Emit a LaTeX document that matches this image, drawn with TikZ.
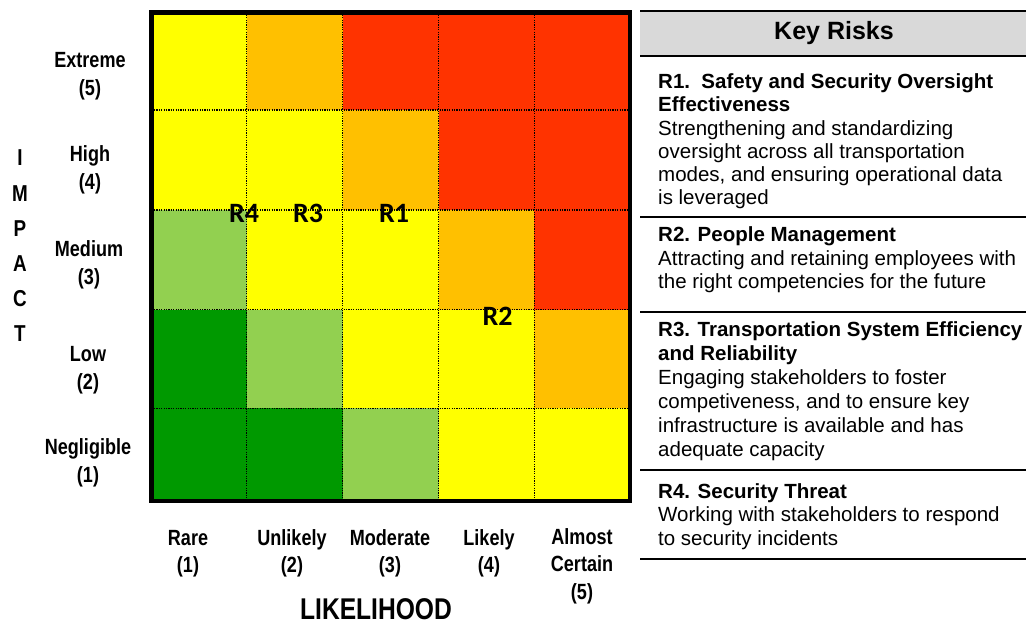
\documentclass[tikz,border=0pt]{standalone}
\usepackage{fontspec}
\setmainfont{Liberation Sans}
\newfontfamily\narrowfont[FakeStretch=0.82]{Liberation Sans}
\newfontfamily\calfont{Carlito}
\definecolor{yel}{HTML}{FFFF00}
\definecolor{org}{HTML}{FFC000}
\definecolor{red}{HTML}{FF3300}
\definecolor{lgr}{HTML}{92D050}
\definecolor{dgr}{HTML}{009900}
\definecolor{headgray}{HTML}{D9D9D9}
\tikzset{
  gridline/.style={black, line width=1.3pt, dash pattern=on 1.3pt off 1.1pt},
  frame/.style={black, line width=4.6pt},
  axislab/.style={inner sep=0, align=center, font=\narrowfont\bfseries\fontsize{22}{27.5}\selectfont},
  axistitle/.style={inner sep=0, align=center, font=\narrowfont\bfseries\fontsize{30}{35}\selectfont},
  risk/.style={inner sep=0, font=\calfont\bfseries\fontsize{28}{30}\selectfont},
  rule/.style={black, line width=2.2pt},
  keyline/.style={anchor=base west, inner sep=0, font=\fontsize{20.5}{24}\selectfont},
  keybold/.style={keyline, font=\bfseries\fontsize{20.5}{24}\selectfont},
}
\begin{document}
\begin{tikzpicture}[x=1pt, y=-1pt]
\useasboundingbox (0,0) rectangle (1026,624);

% heat map cells, one row per impact level (top = Extreme)
\foreach \xa/\xb/\c in {151.5/246.7/yel, 246.7/342.7/org, 342.7/438.7/red, 438.7/534.3/red, 534.3/629.8/red}
  \fill[\c] (\xa,12.3) rectangle (\xb,110);
\foreach \xa/\xb/\c in {151.5/246.7/yel, 246.7/342.7/yel, 342.7/438.7/org, 438.7/534.3/red, 534.3/629.8/red}
  \fill[\c] (\xa,110) rectangle (\xb,210);
\foreach \xa/\xb/\c in {151.5/246.7/lgr, 246.7/342.7/yel, 342.7/438.7/yel, 438.7/534.3/org, 534.3/629.8/red}
  \fill[\c] (\xa,210) rectangle (\xb,309.5);
\foreach \xa/\xb/\c in {151.5/246.7/dgr, 246.7/342.7/lgr, 342.7/438.7/yel, 438.7/534.3/yel, 534.3/629.8/org}
  \fill[\c] (\xa,309.5) rectangle (\xb,408.3);
\foreach \xa/\xb/\c in {151.5/246.7/dgr, 246.7/342.7/dgr, 342.7/438.7/lgr, 438.7/534.3/yel, 534.3/629.8/yel}
  \fill[\c] (\xa,408.3) rectangle (\xb,501);

% dotted cell boundaries
\foreach \x in {246.7, 342.7, 438.7, 534.3}
  \draw[gridline] (\x,12.3) -- (\x,501);
\foreach \y in {110, 210, 309.5, 408.3}
  \draw[gridline] (151.5,\y) -- (629.8,\y);

% outer frame
\draw[frame] (151.5,12.3) rectangle (629.8,501);

% risk markers
\node[risk] (r4) at (244,213) {R4};
\node[risk] (r3) at (308,213) {R3};
\node[risk] (r1) at (394,213) {R1};
\node[risk] (r2) at (497.5,316.5) {R2};

% impact axis
\node[axislab, font=\narrowfont\bfseries\fontsize{23}{35.2}\selectfont] (impact) at (20,246) {I\\M\\P\\A\\C\\T};
\node[axislab] (imp5) at (90,76) {Extreme\\(5)};
\node[axislab] (imp4) at (90,170) {High\\(4)};
\node[axislab] (imp3) at (89,265) {Medium\\(3)};
\node[axislab] (imp2) at (88,370) {Low\\(2)};
\node[axislab] (imp1) at (88,463) {Negligible\\(1)};

% likelihood axis
\node[axislab] (lik1) at (188,553.5) {Rare\\(1)};
\node[axislab] (lik2) at (292,553.5) {Unlikely\\(2)};
\node[axislab] (lik3) at (390,553.5) {Moderate\\(3)};
\node[axislab] (lik4) at (489,553.5) {Likely\\(4)};
\node[axislab] (lik5) at (582,566) {Almost\\Certain\\(5)};
\node[axistitle] (likelihood) at (376,609) {LIKELIHOOD};

% key risks table
\fill[headgray] (640,12) rectangle (1026,55.5);
\draw[rule] (640,11) -- (1026,11);
\draw[rule] (640,56) -- (1026,56);
\node[inner sep=0, font=\bfseries\fontsize{25}{28}\selectfont] (keyhead) at (834,33.5) {Key Risks};
\foreach \y in {216.7, 311.7, 470, 559}
  \draw[rule] (640,\y) -- (1026,\y);

\node[keybold] (k1a) at (658,88) {R1.\ \ Safety and Security Oversight};
\node[keybold] (k1b) at (658,111) {Effectiveness};
\node[keyline] (k1c) at (658,135) {Strengthening and standardizing};
\node[keyline] (k1d) at (658,158) {oversight across all transportation};
\node[keyline] (k1e) at (658,181) {modes, and ensuring operational data};
\node[keyline] (k1f) at (658,204) {is leveraged};

\node[keybold] (k2a) at (658,241.5) {R2. People Management};
\node[keyline] (k2b) at (658,265) {Attracting and retaining employees with};
\node[keyline] (k2c) at (658,288.5) {the right competencies for the future};

\node[keybold] (k3a) at (658,336.5) {R3. Transportation System Efficiency};
\node[keybold] (k3b) at (658,360.5) {and Reliability};
\node[keyline] (k3c) at (658,384.5) {Engaging stakeholders to foster};
\node[keyline] (k3d) at (658,408.5) {competiveness, and to ensure key};
\node[keyline] (k3e) at (658,432.5) {infrastructure is available and has};
\node[keyline] (k3f) at (658,456.5) {adequate capacity};

\node[keybold] (k4a) at (658,498) {R4. Security Threat};
\node[keyline] (k4b) at (658,521.5) {Working with stakeholders to respond};
\node[keyline] (k4c) at (658,545) {to security incidents};
\end{tikzpicture}
\end{document}
